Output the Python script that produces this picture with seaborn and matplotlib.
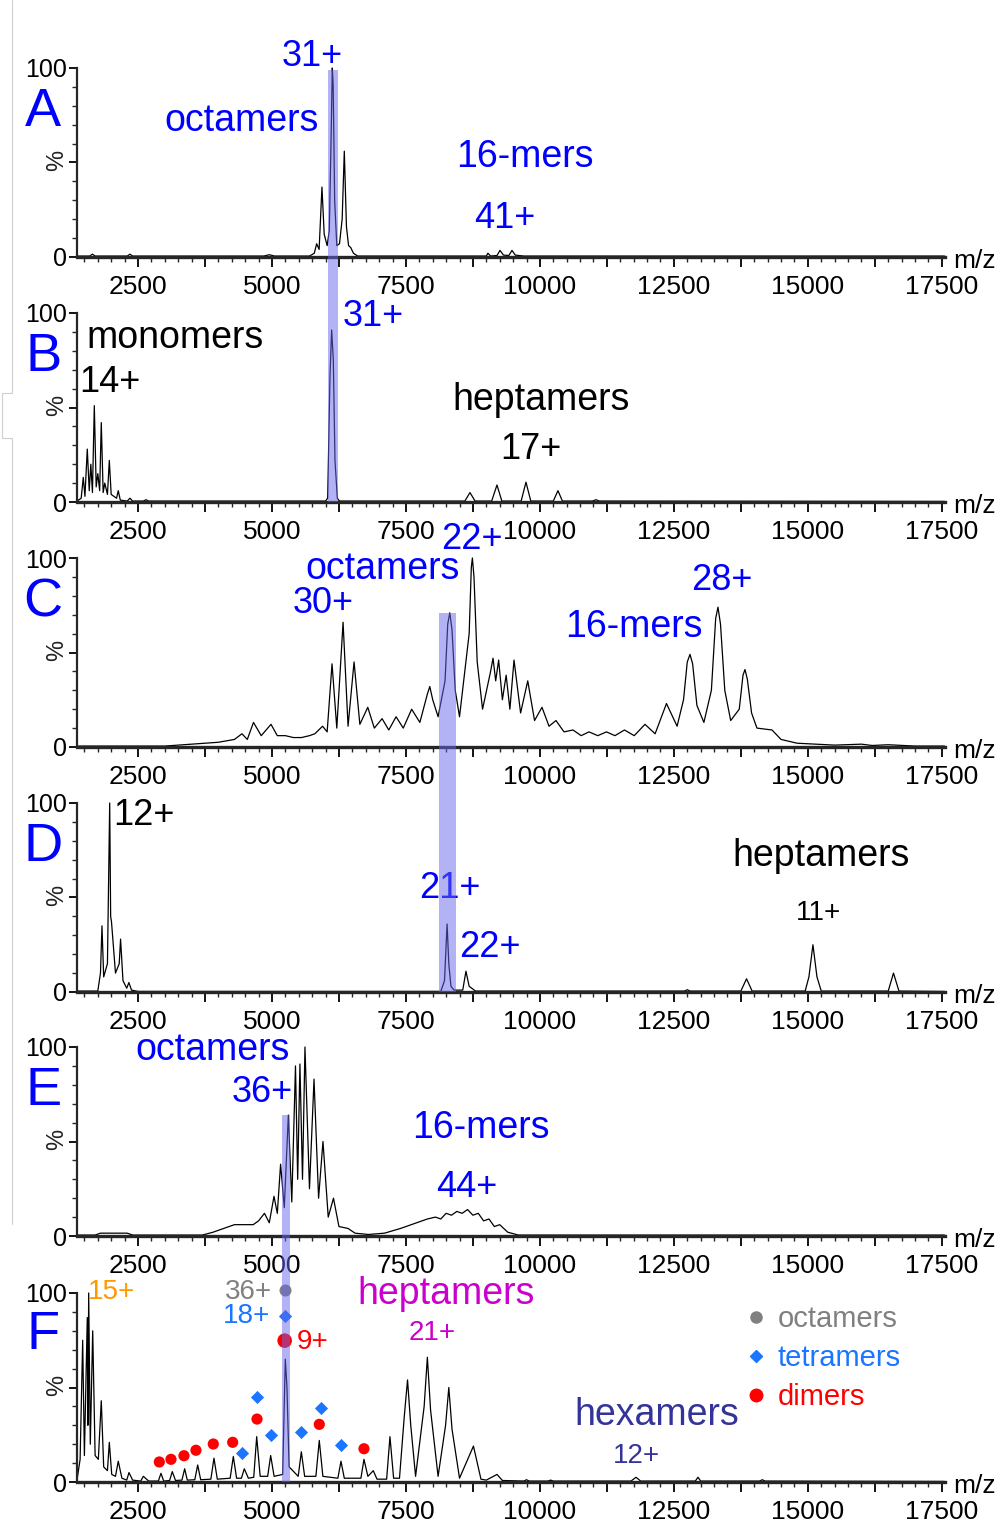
import matplotlib
matplotlib.use("Agg")
import matplotlib.pyplot as plt
import matplotlib.ticker as mticker
from matplotlib.patches import Rectangle
from matplotlib.lines import Line2D
import pandas as pd
import seaborn as sns

sns.set_theme(style="ticks")
plt.rcParams['font.family'] = ['Liberation Sans', 'DejaVu Sans']

# spectra traces: (m/z, % intensity) at apices, flanks and valleys
trace_a = [(1362, 0.5), (1600, 0.5), (1650, 1.5), (1700, 0.5), (2300, 0.5), (2350, 1.5), (2400, 0.5),
           (4850, 0.5), (4950, 1.2), (5050, 0.5), (5700, 0.5), (5790, 2), (5834, 7), (5880, 4),
           (5933, 37), (5975, 12), (6030, 6), (6070, 14), (6105, 65), (6126, 100), (6142, 91),
           (6170, 30), (6210, 6), (6260, 7), (6310, 20), (6350, 56), (6390, 16), (6430, 6),
           (6470, 5), (6520, 2), (6600, 0.5), (9000, 0.5), (9030, 2), (9080, 0.5), (9200, 0.8),
           (9255, 3.5), (9320, 1), (9420, 0.8), (9479, 3.5), (9540, 1), (9700, 0.5), (17550, 0.5)]

trace_b = [(1362, 0.5), (1440, 2), (1479, 13), (1510, 3), (1554, 28), (1590, 6), (1620, 20),
           (1650, 5), (1685, 51), (1720, 8), (1750, 15), (1785, 6), (1815, 42), (1850, 5),
           (1880, 10), (1930, 4), (1965, 22), (2000, 4), (2050, 3), (2100, 2), (2132, 6),
           (2170, 1), (2300, 0.5), (2350, 2), (2400, 0.5), (2600, 0.5), (2650, 1.2), (2700, 0.5),
           (6000, 0.5), (6040, 2), (6083, 67), (6114, 91), (6145, 75), (6176, 22), (6220, 2),
           (6260, 0.5), (8600, 0.5), (8695, 5), (8790, 0.5), (9100, 0.5), (9199, 9), (9290, 0.5),
           (9650, 0.5), (9740, 10.5), (9830, 0.5), (10250, 0.5), (10337, 6), (10420, 0.5),
           (10980, 0.5), (11046, 1.2), (11110, 0.5), (17550, 0.3)]

trace_c = [(1362, 0.5), (3000, 0.5), (3500, 1.5), (4000, 2.5), (4300, 4), (4440, 7), (4540, 4),
           (4655, 13), (4800, 6), (4982, 12), (5100, 6), (5250, 6), (5400, 5), (5550, 5),
           (5700, 6), (5800, 7), (5945, 11), (6030, 8), (6121, 44), (6210, 10), (6327, 66),
           (6420, 11), (6532, 45), (6640, 12), (6788, 21), (6910, 10), (7055, 15), (7180, 9),
           (7316, 16), (7450, 10), (7607, 20), (7760, 13), (7900, 28), (7945, 32), (8000, 25),
           (8100, 16), (8230, 35), (8280, 65), (8318, 71), (8360, 62), (8420, 30), (8500, 16),
           (8680, 60), (8720, 95), (8740, 100), (8770, 90), (8830, 45), (8930, 20), (9080, 40),
           (9125, 47), (9175, 35), (9230, 46), (9300, 25), (9370, 38), (9440, 20), (9517, 46),
           (9640, 18), (9773, 35), (9900, 14), (10039, 21), (10170, 11), (10300, 14),
           (10450, 8), (10617, 9), (10770, 6), (10916, 8), (11080, 6), (11242, 8), (11400, 6),
           (11578, 9), (11760, 6), (11961, 12), (12150, 7), (12362, 23), (12560, 11),
           (12680, 25), (12750, 45), (12801, 49), (12850, 44), (12930, 22), (13060, 13),
           (13200, 30), (13280, 68), (13323, 74), (13370, 65), (13450, 30), (13560, 14),
           (13720, 20), (13790, 38), (13827, 41), (13870, 36), (13950, 18), (14050, 10),
           (14331, 9), (14500, 4), (14800, 2), (15500, 1), (16000, 1.5), (16200, 0.8),
           (16500, 1.2), (17000, 0.5), (17550, 0.5)]

trace_d = [(1362, 0.5), (1750, 0.5), (1800, 10), (1828, 35), (1860, 8), (1930, 15), (1972, 100),
           (1990, 40), (2006, 37), (2080, 10), (2150, 15), (2175, 28), (2220, 6), (2290, 2),
           (2330, 5), (2380, 1), (2500, 0.3), (8150, 0.3), (8220, 6), (8268, 36), (8300, 15),
           (8340, 3), (8400, 1), (8560, 1), (8620, 11), (8680, 3), (8800, 0.5), (12700, 0.5),
           (12750, 1.2), (12800, 0.5), (13750, 0.5), (13856, 7), (13960, 0.5), (14950, 0.5),
           (15020, 8), (15095, 25), (15170, 8), (15250, 0.5), (16500, 0.5), (16598, 10),
           (16700, 0.5), (17550, 0.3)]

trace_e = [(1362, 0.5), (1700, 0.5), (1800, 1.5), (2300, 1.5), (2400, 0.5), (3700, 0.5), (3900, 2),
           (4100, 4), (4300, 6), (4500, 6), (4650, 6), (4750, 8), (4860, 12), (4950, 7),
           (5038, 21), (5100, 12), (5161, 38), (5230, 15), (5306, 64), (5370, 18), (5439, 90),
           (5480, 30), (5522, 91), (5570, 30), (5616, 100), (5700, 25), (5785, 83), (5870, 20),
           (5952, 50), (6050, 10), (6148, 20), (6250, 5), (6420, 4), (6550, 1.5), (6800, 0.8),
           (7100, 1.5), (7400, 4), (7700, 7), (7900, 9), (8050, 10), (8150, 9), (8250, 12),
           (8350, 11), (8450, 13), (8550, 12), (8650, 14), (8750, 11), (8850, 12), (8950, 8),
           (9050, 9), (9150, 5), (9250, 6), (9400, 2), (9600, 0.5), (17550, 0.5)]

trace_f = [(1362, 1), (1420, 12), (1468, 75), (1500, 14), (1554, 87), (1565, 30), (1580, 100),
           (1610, 20), (1655, 80), (1700, 14), (1760, 12), (1815, 43), (1860, 8), (1930, 6),
           (1965, 21), (2010, 4), (2080, 3), (2132, 11), (2200, 2), (2290, 1), (2332, 5),
           (2400, 1), (2550, 0.5), (2600, 3), (2700, 0.5), (2880, 0.5), (2929, 4.6), (2980, 0.5),
           (3090, 0.8), (3140, 5.5), (3200, 0.8), (3320, 1), (3371, 7), (3420, 1), (3560, 1.2),
           (3614, 9), (3670, 1.2), (3860, 1.5), (3918, 12.6), (3980, 1.5), (4220, 2),
           (4279, 13.5), (4340, 2), (4430, 2), (4484, 7), (4560, 2), (4660, 2.5), (4715, 24),
           (4780, 3), (4920, 3), (4976, 14), (5040, 3), (5200, 4), (5249, 65), (5280, 50),
           (5320, 8), (5490, 3), (5548, 16), (5610, 3), (5820, 3), (5883, 22), (5950, 3),
           (6230, 2), (6288, 11), (6350, 2), (6660, 2), (6717, 12), (6790, 3), (6891, 6),
           (6960, 1.5), (7140, 1.5), (7202, 24), (7270, 2), (7380, 2), (7470, 35), (7530, 54),
           (7590, 30), (7680, 3), (7840, 40), (7900, 66), (7960, 38), (8100, 3), (8240, 30),
           (8300, 50), (8360, 28), (8500, 2), (8760, 19), (8900, 1.5), (9000, 1),
           (9200, 4), (9300, 0.8), (9700, 0.5), (9750, 1.2), (9800, 0.5), (10150, 0.5),
           (10200, 1), (10250, 0.5), (11700, 0.5), (11793, 2.5), (11880, 0.5), (12900, 0.5),
           (12950, 2.5), (13000, 0.5), (14100, 0.5), (14150, 1.2), (14200, 0.5), (17550, 0.3)]

# species markers in panel F
dimer_mz = [2898, 3116, 3358, 3582, 3905, 4267, 4721, 5237, 5883, 6717]
dimer_pct = [10.6, 12.0, 13.9, 16.8, 20.1, 21.0, 33.3, 74.8, 30.5, 17.6]
tetramer_mz = [4447, 4715, 4976, 5249, 5548, 5909, 6288]
tetramer_pct = [15.5, 45.1, 24.7, 88.0, 26.6, 39.0, 19.4]
octamer_mz = [5249]
octamer_pct = [101.6]

# highlighted m/z windows: (first panel, last panel, mz from, mz to, top % in first panel)
bands = [(0, 1, 6051, 6226, 99), (2, 3, 8117, 8429, 71), (4, 5, 5182, 5336, 64)]

letters = ["A", "B", "C", "D", "E", "F"]
traces = [trace_a, trace_b, trace_c, trace_d, trace_e, trace_f]

BLUE = "#0000ff"
ORANGE = "#ff9900"
GREY = "#808080"
TBLUE = "#1a75ff"
RED = "#ff0000"
MAGENTA = "#cc00cc"
HEX = "#333399"

W, H = 1007, 1526
fig = plt.figure(figsize=(W / 100, H / 100), dpi=100)

zero_rows = [257, 502, 747, 992, 1236, 1482]
axes = []
for i, y0 in enumerate(zero_rows):
    ax = fig.add_axes([77 / W, 1 - y0 / H, 867.5 / W, 189 / H])
    df = pd.DataFrame(traces[i], columns=["mz", "pct"])
    sns.lineplot(data=df, x="mz", y="pct", ax=ax, color="black", lw=0.9,
                 estimator=None, sort=False, clip_on=False)
    ax.set_xlim(1362, 17550)
    ax.set_ylim(0, 100)
    ax.set_xlabel("")
    ax.set_ylabel("")
    for s in ["top", "right"]:
        ax.spines[s].set_visible(False)
    ax.spines["bottom"].set_linewidth(2.4)
    ax.spines["left"].set_linewidth(1.6)
    ax.spines["left"].set_bounds(0, 100)
    ax.xaxis.set_major_locator(mticker.MultipleLocator(1250))
    ax.xaxis.set_minor_locator(mticker.MultipleLocator(250))
    ax.xaxis.set_major_formatter(mticker.FuncFormatter(
        lambda v, p: f"{v:.0f}" if v % 2500 == 0 else ""))
    ax.yaxis.set_major_locator(mticker.FixedLocator([0, 50, 100]))
    ax.yaxis.set_major_formatter(mticker.FixedFormatter(["0", "", "100"]))
    ax.yaxis.set_minor_locator(mticker.MultipleLocator(10))
    ax.tick_params(axis="x", which="major", length=7, width=1.3, labelsize=19, pad=6,
                   bottom=True, colors="black")
    ax.tick_params(axis="x", which="minor", length=3.5, width=1.0, bottom=True)
    ax.tick_params(axis="y", which="major", length=6, width=1.3, labelsize=18, pad=1,
                   left=True, colors="black")
    ax.tick_params(axis="y", which="minor", length=3.5, width=1.0, left=True)
    ax.text(-0.023, 0.513, "%", transform=ax.transAxes, rotation=90, fontsize=17,
            ha="center", va="center", color="#222222")
    ax.text(1.035, -0.02, "m/z", transform=ax.transAxes, fontsize=19,
            ha="center", va="center", color="black")
    ax.text(-0.039, 0.78 if i == 5 else 0.767, letters[i], transform=ax.transAxes,
            fontsize=39, ha="center", va="center", color=BLUE)
    axes.append(ax)


def note(ax, s, mz, pct, color, size):
    ax.text(mz, pct, s, color=color, fontsize=size, ha="center", va="center", clip_on=False)


ax = axes[0]
note(ax, "31+", 5747, 106, BLUE, 26)
note(ax, "octamers", 4441, 72, BLUE, 27)
note(ax, "16-mers", 9722, 53, BLUE, 27)
note(ax, "41+", 9349, 20.6, BLUE, 26)

ax = axes[1]
note(ax, "monomers", 3190, 87, "black", 27)
note(ax, "14+", 1977, 63, "black", 26)
note(ax, "31+", 6885, 98.4, BLUE, 26)
note(ax, "heptamers", 10020, 54, "black", 27)
note(ax, "17+", 9833, 28, "black", 26)

ax = axes[2]
note(ax, "22+", 8732, 110, BLUE, 26)
note(ax, "octamers", 7072, 94, BLUE, 27)
note(ax, "30+", 5952, 75.7, BLUE, 26)
note(ax, "28+", 13397, 88, BLUE, 26)
note(ax, "16-mers", 11755, 63.5, BLUE, 27)

ax = axes[3]
note(ax, "12+", 2612, 93.6, "black", 26)
note(ax, "heptamers", 15245, 72, "black", 27)
note(ax, "21+", 8322, 55, BLUE, 26)
note(ax, "22+", 9068, 23.3, BLUE, 26)
note(ax, "11+", 15208, 41.8, "black", 20)

ax = axes[4]
note(ax, "octamers", 3900, 98.4, BLUE, 27)
note(ax, "36+", 4814, 75.7, BLUE, 26)
note(ax, "16-mers", 8900, 57, BLUE, 27)
note(ax, "44+", 8639, 25.9, BLUE, 26)

ax = axes[5]
note(ax, "15+", 2009, 100.7, ORANGE, 20)
note(ax, "36+", 4559, 100.7, GREY, 20)
note(ax, "18+", 4528, 87.8, TBLUE, 20)
note(ax, "9+", 5752, 74, RED, 20)
note(ax, "heptamers", 8247, 99.5, MAGENTA, 27)
note(ax, "21+", 7986, 78.8, MAGENTA, 20)
note(ax, "hexamers", 12185, 35.4, HEX, 27)
note(ax, "12+", 11793, 13.8, HEX, 20)

big = [5182 <= m <= 5336 for m in dimer_mz]
sns.scatterplot(x=dimer_mz, y=dimer_pct, ax=ax, color=RED, marker="o", linewidth=0,
                size=big, sizes={False: 65, True: 110}, legend=False, clip_on=False, zorder=6)
sns.scatterplot(x=tetramer_mz, y=tetramer_pct, ax=ax, color=TBLUE, marker="D", linewidth=0,
                s=45, legend=False, clip_on=False, zorder=6)
sns.scatterplot(x=octamer_mz, y=octamer_pct, ax=ax, color=GREY, marker="o", linewidth=0,
                s=75, legend=False, clip_on=False, zorder=6)

handles = [Line2D([], [], marker="o", ls="", color=GREY, ms=8),
           Line2D([], [], marker="D", ls="", color=TBLUE, ms=6.5),
           Line2D([], [], marker="o", ls="", color=RED, ms=9)]
ax.legend(handles, ["octamers", "tetramers", "dimers"], loc="upper left",
          bbox_to_anchor=(0.752, 1.012), frameon=False, fontsize=21, borderpad=0,
          handlelength=0.8, handletextpad=0.35, labelspacing=0.38,
          labelcolor=[GREY, TBLUE, RED])

# highlight bands spanning two stacked panels
inv = fig.transFigure.inverted()
for first, last, m0, m1, top in bands:
    x0, yt = axes[first].transData.transform((m0, top))
    x1, _ = axes[first].transData.transform((m1, top))
    _, yb = axes[last].transData.transform((m0, 0))
    fx0, fy0 = inv.transform((x0, yb))
    fx1, fy1 = inv.transform((x1, yt))
    fig.add_artist(Rectangle((fx0, fy0), fx1 - fx0, fy1 - fy0, transform=fig.transFigure,
                             facecolor=(0.4, 0.4, 0.93), alpha=0.5, lw=0, zorder=5))

# faint frame edge on the far left of the original scan
frame = Line2D([12 / W, 12 / W, 2 / W, 2 / W, 12 / W, 12 / W],
               [1, 1 - 393 / H, 1 - 393 / H, 1 - 438 / H, 1 - 438 / H, 1 - 1224 / H],
               transform=fig.transFigure, color="#cfcfcf", lw=0.8)
fig.add_artist(frame)

fig.savefig("out.png", dpi=100)
